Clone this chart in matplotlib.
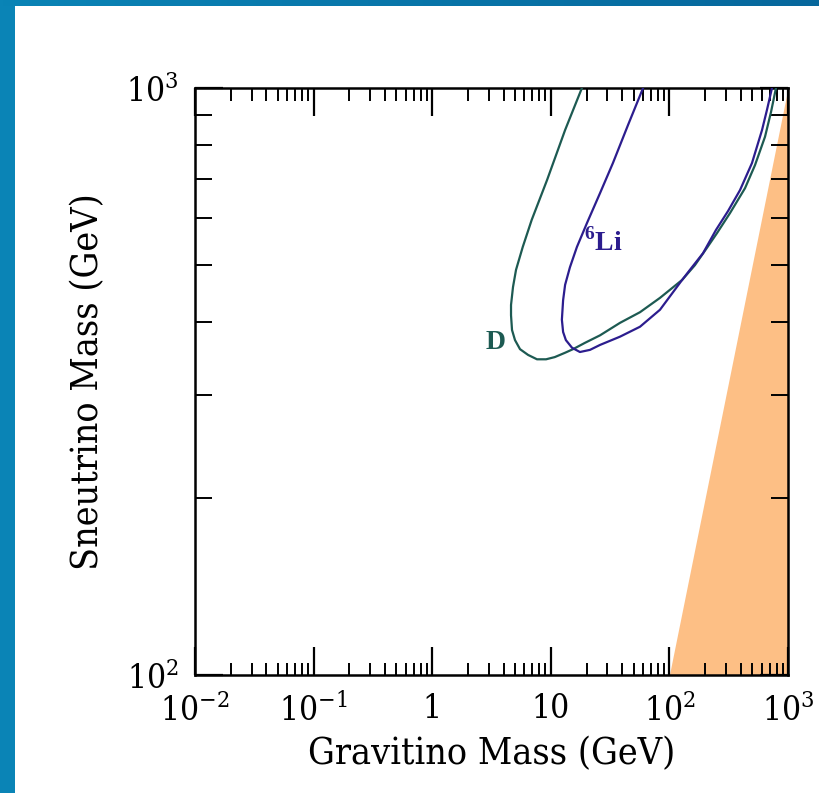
import numpy as np
import matplotlib
matplotlib.use("Agg")
import matplotlib.pyplot as plt
from matplotlib.colors import LinearSegmentedColormap
from matplotlib.ticker import FixedLocator, FixedFormatter, LogLocator, NullFormatter

# Deuterium (D) constraint contour: gravitino mass vs sneutrino mass (GeV)
d_gravitino = [18.3, 13.2, 9.3, 6.9, 5.8, 5.09, 4.8, 4.62, 4.62, 4.71, 4.99,
               5.5, 6.43, 7.65, 9.12, 10.8, 13.2, 15.4, 19.4, 26.0, 38.3,
               56.5, 83.3, 128.0, 164.0, 207.0, 252.0, 324.0, 434.0, 527.0,
               640.0, 719.0, 792.0]
d_sneutrino = [1000, 848, 697, 596, 536, 490, 458, 427, 410, 387, 372,
               359, 351, 345, 345, 348, 354, 359, 368, 379, 398,
               415, 439, 471, 499, 534, 566, 612, 675, 739,
               826, 910, 1000]

# Lithium-6 constraint contour
li_gravitino = [60.0, 44.8, 33.4, 26.0, 20.2, 16.6, 14.5, 13.2, 12.7, 12.4,
                12.7, 13.4, 15.1, 17.6, 21.4, 26.0, 38.3, 56.5, 83.3, 128.0,
                149.0, 192.0, 247.0, 312.0, 394.0, 497.0, 604.0, 665.0, 733.0]
li_sneutrino = [1000, 865, 745, 662, 589, 536, 495, 462, 435, 403,
                384, 372, 361, 355, 358, 365, 377, 392, 419, 471,
                490, 523, 573, 617, 670, 745, 848, 918, 1000]

# Region where the gravitino is heavier than the sneutrino
edge_sneutrino = [100, 1000]
edge_gravitino = [100, 1000]

x_ticks = [1e-2, 1e-1, 1, 10, 1e2, 1e3]
x_labels = [r"$10^{-2}$", r"$10^{-1}$", "1", "10", r"$10^{2}$", r"$10^{3}$"]
y_ticks = [1e2, 1e3]
y_labels = [r"$10^{2}$", r"$10^{3}$"]

d_color = "#1d5a52"
li_color = "#2c1d8e"
fill_color = "#fdbf85"
frame_color = "#0a84b6"

plt.rcParams["font.family"] = ["DejaVu Serif"]
plt.rcParams["font.stretch"] = "condensed"
plt.rcParams["mathtext.fontset"] = "custom"
plt.rcParams["mathtext.rm"] = "DejaVu Serif"
plt.rcParams["mathtext.bf"] = "Liberation Serif:bold"

fig = plt.figure(figsize=(8.2, 7.93), dpi=100)
fig.patch.set_facecolor("white")

# Slide frame: left bar and top bar with a slight gradient
left_bar = fig.add_axes([0, 0, 15 / 820, 1])
left_bar.set_axis_off()
left_bar.add_patch(plt.Rectangle((0, 0), 1, 1, color=frame_color,
                                 transform=left_bar.transAxes))
top_bar = fig.add_axes([0, 1 - 6 / 793, 1, 6 / 793])
grad = np.linspace(0, 1, 256).reshape(1, -1)
cmap = LinearSegmentedColormap.from_list("frame", [frame_color, "#06679c"])
top_bar.imshow(grad, aspect="auto", cmap=cmap, extent=[0, 1, 0, 1])
top_bar.set_axis_off()

ax = fig.add_axes([195 / 820, 1 - 675 / 793, 593 / 820, 587 / 793])
ax.set_xscale("log")
ax.set_yscale("log")
ax.set_xlim(1e-2, 1e3)
ax.set_ylim(1e2, 1e3)

ax.fill_betweenx(edge_sneutrino, edge_gravitino, [1000, 1000],
                 color=fill_color, linewidth=0, zorder=1)

ax.plot(d_gravitino, d_sneutrino, color=d_color, lw=1.6, zorder=3)
ax.plot(li_gravitino, li_sneutrino, color=li_color, lw=1.6, zorder=3)

ax.text(4.15, 368, "D", color=d_color, fontsize=20, fontweight="bold",
        ha="right", va="center", family="Liberation Serif")
ax.text(19.0, 545, r"$^{\mathbf{6}}$Li", color=li_color, fontsize=20,
        fontweight="bold", ha="left", va="center", family="Liberation Serif")

ax.xaxis.set_major_locator(FixedLocator(x_ticks))
ax.xaxis.set_major_formatter(FixedFormatter(x_labels))
ax.xaxis.set_minor_locator(LogLocator(base=10, subs=np.arange(2, 10), numticks=20))
ax.xaxis.set_minor_formatter(NullFormatter())
ax.yaxis.set_major_locator(FixedLocator(y_ticks))
ax.yaxis.set_major_formatter(FixedFormatter(y_labels))
ax.yaxis.set_minor_locator(LogLocator(base=10, subs=np.arange(2, 10), numticks=20))
ax.yaxis.set_minor_formatter(NullFormatter())

ax.tick_params(which="both", direction="in", top=True, right=True, colors="black")
ax.tick_params(axis="x", which="major", length=20, width=1.6, labelsize=24, pad=13)
ax.tick_params(axis="x", which="minor", length=9, width=1.4)
ax.tick_params(axis="y", which="major", length=20, width=1.6, labelsize=24, pad=12)
ax.tick_params(axis="y", which="minor", length=12, width=1.4)
for s in ax.spines.values():
    s.set_linewidth(1.8)

ax.set_xlabel("Gravitino Mass (GeV)", fontsize=27, labelpad=6)
ax.set_ylabel("Sneutrino Mass (GeV)", fontsize=27, labelpad=14)

fig.savefig("out.png", dpi=100, facecolor="white")
